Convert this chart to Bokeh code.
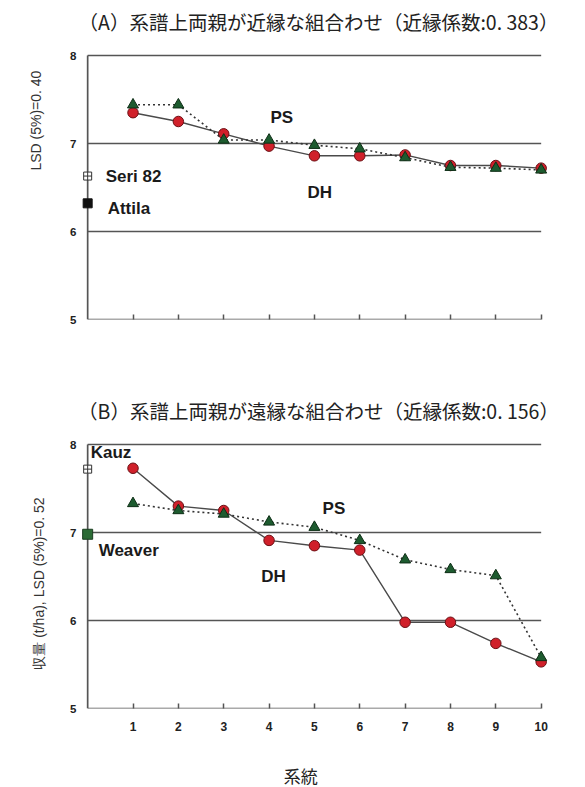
import math
from bokeh.plotting import figure
from bokeh.layouts import column, row
from bokeh.models import Label, FixedTicker, Range1d
from bokeh.embed import file_html
from bokeh.resources import INLINE

# ---------------- data ----------------
lines = list(range(1, 11))
x_ticks = list(range(0, 11))
y_ticks = [5, 6, 7, 8]

dh_a = [7.35, 7.25, 7.11, 6.97, 6.86, 6.86, 6.87, 6.75, 6.75, 6.72]
ps_a = [7.44, 7.44, 7.04, 7.04, 6.98, 6.94, 6.84, 6.73, 6.72, 6.70]
dh_b = [7.73, 7.30, 7.25, 6.91, 6.85, 6.80, 5.98, 5.98, 5.74, 5.53]
ps_b = [7.33, 7.25, 7.21, 7.12, 7.06, 6.91, 6.69, 6.58, 6.51, 5.58]

parents_a = ["Seri 82", "Attila"]
parent_yield_a = [6.63, 6.32]
parents_b = ["Kauz", "Weaver"]
parent_yield_b = [7.72, 6.98]

title_a = "（A）系譜上両親が近縁な組合わせ（近縁係数:0. 383）"
title_b = "（B）系譜上両親が遠縁な組合わせ（近縁係数:0. 156）"
ylabel_a = "LSD (5%)=0. 40"
ylabel_b = "収量 (t/ha), LSD (5%)=0. 52"
xlabel = "系統"

# ---------------- styling / layout constants ----------------
JP = "Noto Sans CJK JP"
LAT = "Liberation Sans"
AX = "#555555"
W = 585
STRIP = 55          # width of the strip holding the rotated y titles
X0 = 87.2           # pixel position of x = 0
XU = 45.35          # pixels per x unit
YU = 88.0           # pixels per y unit


def blank(width, height, x_range, y_range, bottom=0):
    f = figure(width=width, height=height, output_backend="svg", toolbar_location=None,
               x_range=x_range, y_range=y_range, x_axis_location=None,
               y_axis_location=None, min_border_left=0, min_border_right=0,
               min_border_top=0, min_border_bottom=bottom)
    f.outline_line_color = None
    f.xgrid.grid_line_color = None
    f.ygrid.grid_line_color = None
    return f


def panel(height, frame_h, bottom, dh, ps, title, ylabel, ylab_xy, show_xlabels):
    yr = Range1d(5, 5 + frame_h / YU)
    p = figure(width=W - STRIP, height=height, output_backend="svg", toolbar_location=None,
               x_range=Range1d(-0.18, 10.25), y_range=yr,
               min_border_left=int(round(X0 - 0.18 * XU - STRIP)), min_border_right=33,
               min_border_top=0, min_border_bottom=bottom)
    p.outline_line_color = None
    p.xgrid.grid_line_color = None
    p.ygrid.grid_line_color = None

    # y axis (tick labels only)
    p.yaxis.ticker = FixedTicker(ticks=y_ticks)
    p.yaxis.axis_line_color = None
    p.yaxis.major_tick_in = 0
    p.yaxis.major_tick_out = 0
    p.yaxis.minor_tick_line_color = None
    p.yaxis.major_label_standoff = 3
    p.yaxis.major_label_text_font = LAT
    p.yaxis.major_label_text_font_style = "bold"
    p.yaxis.major_label_text_font_size = "11.5px"
    p.yaxis.major_label_text_color = "#222222"

    # x axis
    p.xaxis.ticker = FixedTicker(ticks=x_ticks[1:])
    p.xaxis.axis_line_color = None
    p.xaxis.major_tick_in = 5
    p.xaxis.major_tick_out = 0
    p.xaxis.major_tick_line_color = AX
    p.xaxis.major_tick_line_width = 1.5
    p.xaxis.minor_tick_line_color = None
    p.xaxis.major_label_standoff = 13
    p.xaxis.major_label_text_font = LAT
    p.xaxis.major_label_text_font_style = "bold"
    p.xaxis.major_label_text_font_size = "12px"
    p.xaxis.major_label_text_color = "#222222"
    if not show_xlabels:
        p.xaxis.major_label_overrides = {t: "" for t in x_ticks[1:]}

    # grid lines at 6, 7, 8 and the axis lines
    gy = y_ticks[1:]
    p.segment(x0=[x_ticks[0]] * len(gy), x1=[x_ticks[-1]] * len(gy), y0=gy, y1=gy,
              line_color=AX, line_width=1.7)
    p.segment(x0=[x_ticks[0]], x1=[x_ticks[-1]], y0=[y_ticks[0]], y1=[y_ticks[0]],
              line_color=AX, line_width=1.7)
    p.segment(x0=[x_ticks[0]], x1=[x_ticks[0]], y0=[y_ticks[0]], y1=[y_ticks[-1]],
              line_color=AX, line_width=1.7)

    # DH series
    p.line(lines, dh, line_color="#4a4a4a", line_width=1.4)
    p.scatter(lines, dh, marker="circle", size=10.5, fill_color="#d0202a",
              line_color="#6b0f14", line_width=1)
    # PS series
    p.line(lines, ps, line_color="#333333", line_width=1.6, line_dash="2 3")
    p.scatter(lines, ps, marker="triangle", size=11, fill_color="#1d5b2f",
              line_color="#0e2e16", line_width=1)

    # panel title in the upper band of the frame
    p.add_layout(Label(x=5.09, y=8.39, text=title, text_font=JP, text_font_size="19.5px",
                       text_align="center", text_baseline="middle", text_color="#222222"))

    # strip with the rotated y title, sharing the y range
    s = blank(STRIP, height, Range1d(0, STRIP), yr, bottom=bottom)
    s.add_layout(Label(x=ylab_xy[0], y=ylab_xy[1], text=ylabel, angle=math.pi / 2,
                       text_font=LAT, text_font_size="14px", text_align="center",
                       text_baseline="middle", text_color="#333333"))
    return p, s


def tlabel(p, x, y, text, align="left", xo=0, yo=0):
    p.add_layout(Label(x=x, y=y, x_offset=xo, y_offset=yo, text=text, text_font=LAT,
                       text_font_style="bold", text_font_size="17px", text_align=align,
                       text_baseline="middle", text_color="#1a1a1a"))


# ---------------- panel A ----------------
pa, sa = panel(350, 319, 31, dh_a, ps_a, title_a, ylabel_a, (35, 7.26), False)
pa.scatter([x_ticks[0]], [parent_yield_a[1]], marker="square", size=9,
           fill_color="#111111", line_color="#111111")
pa.scatter([x_ticks[0]], [parent_yield_a[0]], marker="square_cross", size=8,
           fill_color="white", line_color="#333333", line_width=1)
tlabel(pa, x_ticks[0], parent_yield_a[0], parents_a[0], xo=18, yo=0)
tlabel(pa, x_ticks[0], parent_yield_a[1], parents_a[1], xo=20, yo=-5)
tlabel(pa, 4.28, 7.30, "PS", align="center")
tlabel(pa, 5.12, 6.44, "DH", align="center")

# ---------------- panel B ----------------
pb, sb = panel(400, 358, 42, dh_b, ps_b, title_b, ylabel_b, (38, 6.42), True)
pb.scatter([x_ticks[0]], [parent_yield_b[0]], marker="square_cross", size=8,
           fill_color="white", line_color="#333333", line_width=1)
pb.scatter([x_ticks[0]], [parent_yield_b[1]], marker="square", size=10,
           fill_color="#2b6b35", line_color="#1a3d20")
tlabel(pb, x_ticks[0], parent_yield_b[0], parents_b[0], xo=3, yo=17)
tlabel(pb, x_ticks[0], parent_yield_b[1], parents_b[1], xo=11, yo=-16)
tlabel(pb, 5.43, 7.27, "PS", align="center")
tlabel(pb, 4.10, 6.50, "DH", align="center")

# ---------------- x title strip ----------------
bottom_h = 37
sx = blank(W, bottom_h, Range1d(-X0 / XU, (W - X0) / XU), Range1d(0, bottom_h))
sx.add_layout(Label(x=4.7, y=12, text=xlabel, text_font=JP, text_font_size="17px",
                    text_align="center", text_baseline="middle", text_color="#222222"))

layout = column(row(sa, pa, spacing=0), row(sb, pb, spacing=0), sx, spacing=0)
open("out.html", "w").write(file_html(layout, INLINE))
